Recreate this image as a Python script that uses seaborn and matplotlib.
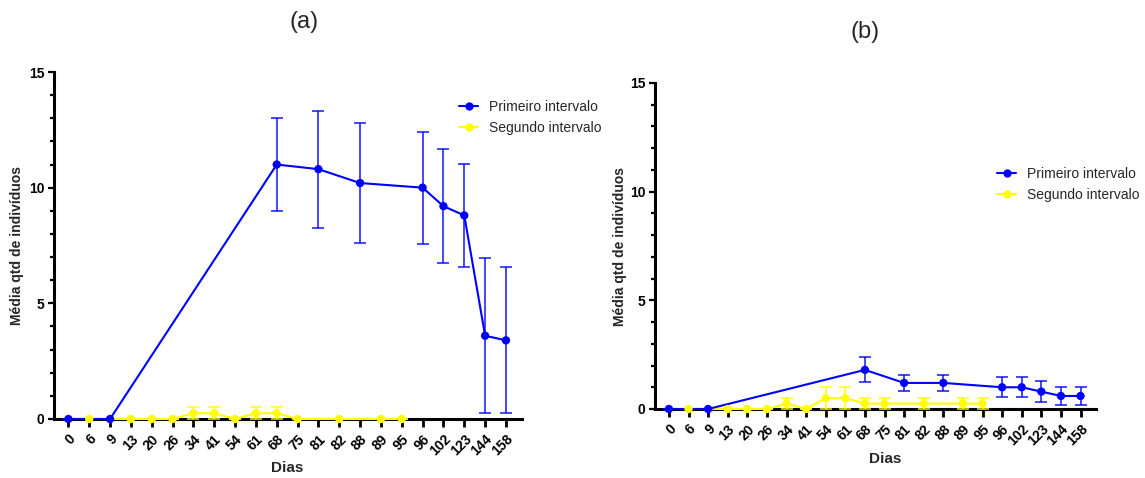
import matplotlib
matplotlib.use("Agg")
import matplotlib.pyplot as plt
from matplotlib.lines import Line2D
from matplotlib.ticker import MultipleLocator
import pandas as pd
import seaborn as sns

# Sampling days (categorical axis, evenly spaced)
dias = ["0", "6", "9", "13", "20", "26", "34", "41", "54", "61", "68",
        "75", "81", "82", "88", "89", "95", "96", "102", "123", "144", "158"]

dias_primeiro = ["0", "9", "68", "81", "88", "96", "102", "123", "144", "158"]
dias_segundo = ["6", "13", "20", "26", "34", "41", "54", "61", "68", "75", "82", "89", "95"]

# Panel (a)
media_primeiro_a = [0, 0, 11.0, 10.8, 10.2, 10.0, 9.2, 8.8, 3.6, 3.4]
erro_primeiro_a = [0, 0, 2.0, 2.53, 2.6, 2.42, 2.45, 2.24, 3.35, 3.16]
media_segundo_a = [0, 0, 0, 0, 0.25, 0.25, 0, 0.25, 0.25, 0, 0, 0, 0]
erro_segundo_a = [0, 0, 0, 0, 0.25, 0.25, 0, 0.25, 0.25, 0, 0, 0, 0]

# Panel (b)
media_primeiro_b = [0, 0, 1.8, 1.2, 1.2, 1.0, 1.0, 0.8, 0.6, 0.6]
erro_primeiro_b = [0, 0, 0.57, 0.38, 0.38, 0.45, 0.45, 0.49, 0.4, 0.4]
media_segundo_b = [0, 0, 0, 0, 0.25, 0, 0.5, 0.5, 0.25, 0.25, 0.25, 0.25, 0.25]
erro_segundo_b = [0, 0, 0, 0, 0.25, 0, 0.5, 0.5, 0.25, 0.25, 0.25, 0.25, 0.25]

series = ["Primeiro intervalo", "Segundo intervalo"]
cores = {"Primeiro intervalo": "#0000FF", "Segundo intervalo": "#FFFF00"}

sns.set_theme(style="ticks")
plt.rcParams["font.family"] = ["Liberation Sans", "DejaVu Sans"]
plt.rcParams["axes.edgecolor"] = "black"
plt.rcParams["xtick.color"] = "black"
plt.rcParams["ytick.color"] = "black"


def montar(media_p, erro_p, media_s, erro_s):
    partes = []
    for serie, d, m, e in [(series[0], dias_primeiro, media_p, erro_p),
                           (series[1], dias_segundo, media_s, erro_s)]:
        partes.append(pd.DataFrame({"serie": serie, "Dias": d, "media": m, "erro": e}))
    df = pd.concat(partes, ignore_index=True)
    df["pos"] = df["Dias"].map({d: i for i, d in enumerate(dias)})
    return df


def desenhar(ax, df, xlim, xlabel_xy, ylabel_xy):
    # lines (second series underneath the first)
    sns.lineplot(data=df, x="pos", y="media", hue="serie",
                 hue_order=series[::-1], palette=cores, linewidth=1.5,
                 errorbar=None, legend=False, sort=True, ax=ax,
                 clip_on=False, zorder=4)
    # error bars
    for serie in series:
        sub = df[df["serie"] == serie]
        cont = ax.errorbar(sub["pos"], sub["media"], yerr=sub["erro"], fmt="none",
                           ecolor=cores[serie], elinewidth=1.2, capsize=4,
                           capthick=1.2, alpha=0.85, zorder=3.5)
        for art in cont.get_children():
            art.set_clip_on(False)
    # markers on top of the lines
    sns.scatterplot(data=df, x="pos", y="media", hue="serie", hue_order=series,
                    palette=cores, s=36, linewidth=0, legend=False, ax=ax,
                    clip_on=False, zorder=5)

    ax.set_xlim(*xlim)
    ax.set_ylim(0, 15)
    ax.set_xticks(range(len(dias)))
    ax.set_xticklabels(dias, rotation=45, ha="right", rotation_mode="anchor",
                       fontsize=10, fontweight="bold")
    ax.yaxis.set_major_locator(MultipleLocator(5))
    ax.yaxis.set_minor_locator(MultipleLocator(1))
    ax.tick_params(axis="y", which="major", length=4.5, width=1.6, pad=2.5,
                   labelsize=10)
    ax.tick_params(axis="y", which="minor", length=3, width=1.6)
    ax.tick_params(axis="x", which="major", length=5.5, width=2.0, pad=4)
    for lbl in ax.get_yticklabels():
        lbl.set_fontweight("bold")
    sns.despine(ax=ax)
    ax.spines["left"].set_linewidth(2.2)
    ax.spines["bottom"].set_linewidth(2.2)

    ax.set_xlabel("Dias", fontsize=11, fontweight="bold")
    ax.set_ylabel("Média qtd de indivíduos", fontsize=10, fontweight="bold")
    ax.xaxis.set_label_coords(*xlabel_xy)
    ax.yaxis.set_label_coords(*ylabel_xy)


def legenda(ax, fig, canto):
    alcas = [Line2D([], [], color=cores[s], linewidth=1.5, marker="o",
                    markersize=6, markeredgewidth=0) for s in series]
    ax.legend(alcas, series, loc="upper left", bbox_to_anchor=canto,
              bbox_transform=fig.transFigure, frameon=False, fontsize=10,
              handlelength=1.37, handletextpad=0.8, labelspacing=0.5,
              borderpad=0, borderaxespad=0)


W, H = 1145, 478
fig = plt.figure(figsize=(W / 100, H / 100), dpi=100)

ax_a = fig.add_axes([54 / W, (H - 419) / H, (522 - 54) / W, (419 - 72) / H])
ax_b = fig.add_axes([655 / W, (H - 409) / H, (1096 - 655) / W, (409 - 83) / H])

desenhar(ax_a, montar(media_primeiro_a, erro_primeiro_a, media_segundo_a, erro_segundo_a),
         (-0.69, 21.77), (0.498, -0.121), (-0.064, 0.5))
desenhar(ax_b, montar(media_primeiro_b, erro_primeiro_b, media_segundo_b, erro_segundo_b),
         (-0.71, 21.79), (0.5215, -0.132), (-0.0635, 0.5))

legenda(ax_a, fig, (459 / W, 1 - 100 / H))
legenda(ax_b, fig, (997 / W, 1 - 167 / H))

fig.text(304 / W, 1 - 22 / H, "(a)", ha="center", va="center", fontsize=17)
fig.text(865 / W, 1 - 32 / H, "(b)", ha="center", va="center", fontsize=17)

fig.savefig("out.png", dpi=100)
